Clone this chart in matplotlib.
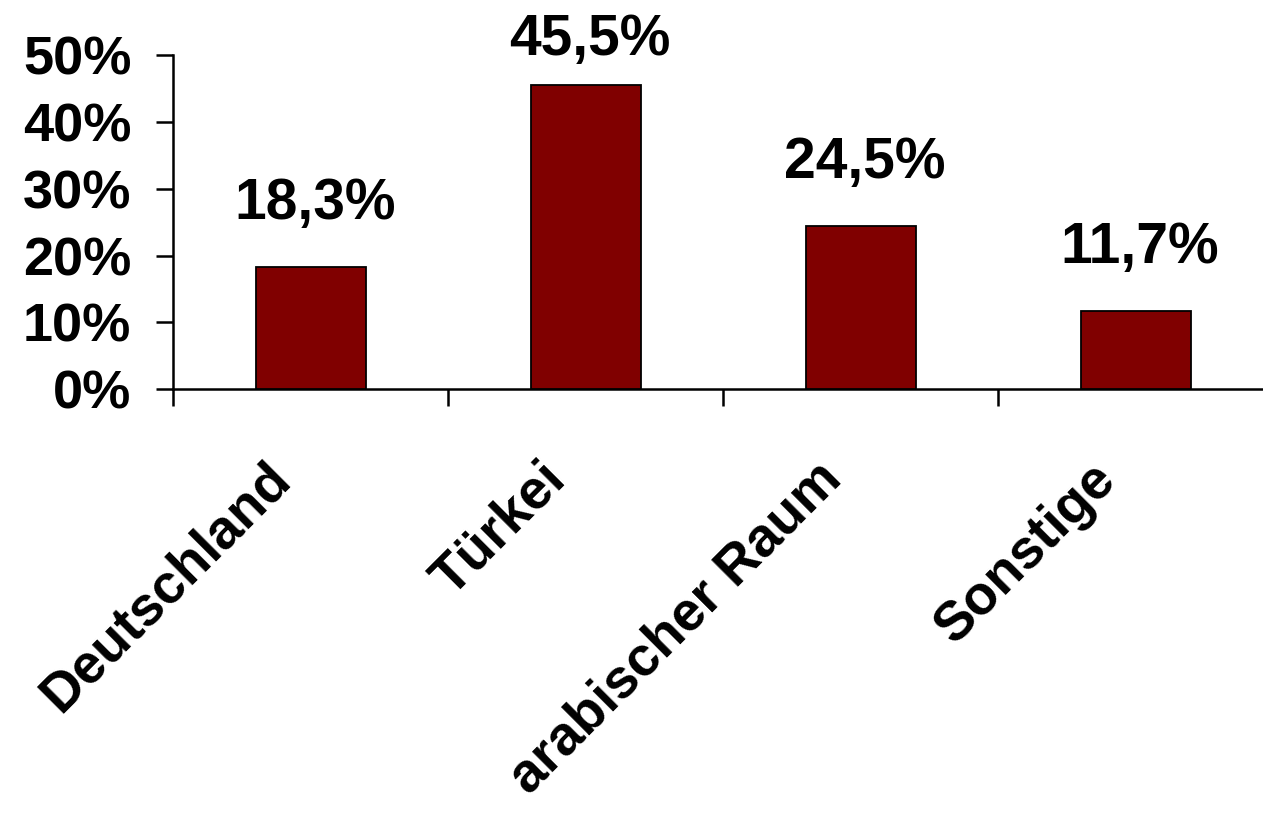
import matplotlib
matplotlib.use("Agg")
import matplotlib.pyplot as plt

# Herkunft der Befragten (Anteile)
laender = ["Deutschland", "Türkei", "arabischer Raum", "Sonstige"]
anteile = [0.183, 0.455, 0.245, 0.117]
beschriftung = ["18,3%", "45,5%", "24,5%", "11,7%"]
y_ticks = [0.0, 0.1, 0.2, 0.3, 0.4, 0.5]
y_labels = ["0%", "10%", "20%", "30%", "40%", "50%"]

plt.rcParams["font.family"] = ["Liberation Sans", "DejaVu Sans"]
plt.rcParams["font.weight"] = "bold"

fig = plt.figure(figsize=(12.63, 8.14), dpi=100)
ax = fig.add_axes([0.137, 0.522, 0.871, 0.410])

x = list(range(len(laender)))
ax.bar(x, anteile, width=0.4, color="#800000", edgecolor="black", linewidth=1.3, zorder=3)

ax.set_xlim(-0.5, 3.5)
ax.set_ylim(0, 0.5)

for s in ["top", "right"]:
    ax.spines[s].set_visible(False)
for s in ["left", "bottom"]:
    ax.spines[s].set_linewidth(1.8)

ax.set_yticks(y_ticks)
ax.set_yticklabels(y_labels, fontsize=39, fontweight="bold")
ax.tick_params(axis="y", direction="out", length=12, width=1.8, pad=18)

# Striche zwischen den Kategorien, Beschriftung separat
ax.set_xticks([-0.5, 0.5, 1.5, 2.5])
ax.set_xticklabels([])
ax.tick_params(axis="x", direction="out", length=12, width=1.8)

# Werte über den Balken
for i, (v, txt) in enumerate(zip(anteile, beschriftung)):
    ax.text(i + 0.015, min(v + 0.072, 0.5), txt, ha="center", va="baseline",
            fontsize=41, fontweight="bold", clip_on=False)

# Kategorien schräg unter der Achse
for i, name in enumerate(laender):
    ax.annotate(name, xy=(i, 0), xycoords=("data", "axes fraction"),
                xytext=(-33, -46), textcoords="offset points",
                rotation=45, rotation_mode="anchor", ha="right", va="top",
                fontsize=39.5, fontweight="bold")

fig.savefig("out.png", dpi=100)
